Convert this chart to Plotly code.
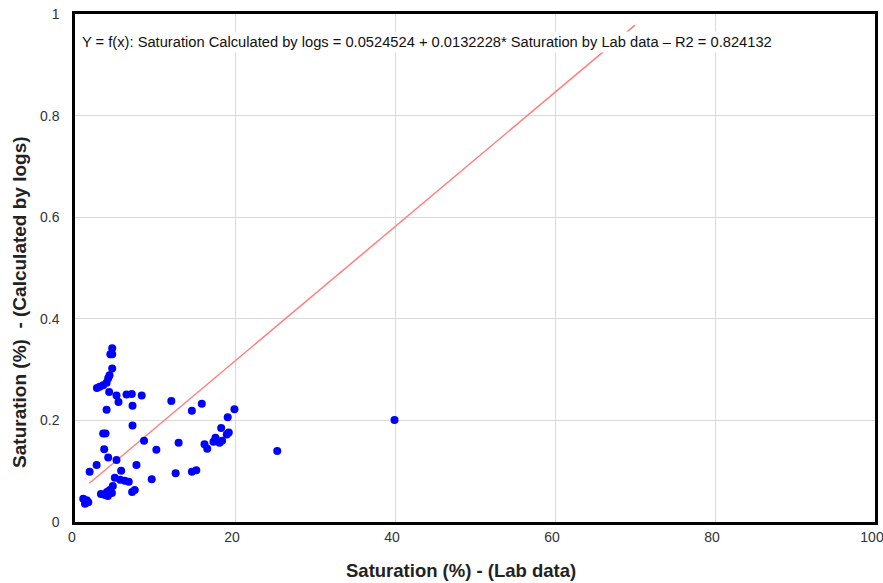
import plotly.graph_objects as go

lab_saturation = [4.65, 4.65, 4.42, 4.65, 4.32, 4.15, 3.95, 3.52, 3.08, 2.74,
                  4.27, 5.19, 5.44, 6.44, 7.10, 8.34, 7.19, 3.95, 12.04, 14.61,
                  15.85, 19.93, 19.09, 18.27, 19.22, 18.97, 17.56, 17.31, 18.06, 18.39,
                  16.19, 16.53, 12.95, 10.17, 12.58, 14.61, 15.16, 9.59, 39.94, 25.28,
                  7.19, 3.52, 3.82, 8.63, 3.65, 4.15, 5.19, 2.70, 1.83, 7.68,
                  5.77, 4.98, 5.64, 6.23, 6.72, 7.47, 7.14, 4.73, 4.36, 3.99,
                  4.61, 3.74, 3.24, 4.11, 1.03, 1.46, 1.66, 1.25]
log_saturation = [0.342, 0.330, 0.330, 0.302, 0.289, 0.283, 0.274, 0.269, 0.266, 0.264,
                  0.256, 0.249, 0.236, 0.251, 0.252, 0.249, 0.229, 0.221, 0.238, 0.219,
                  0.233, 0.222, 0.206, 0.185, 0.176, 0.172, 0.166, 0.158, 0.156, 0.160,
                  0.153, 0.144, 0.156, 0.142, 0.096, 0.099, 0.102, 0.084, 0.201, 0.140,
                  0.190, 0.174, 0.174, 0.160, 0.143, 0.127, 0.122, 0.112, 0.099, 0.112,
                  0.101, 0.087, 0.083, 0.081, 0.079, 0.063, 0.059, 0.071, 0.063, 0.059,
                  0.057, 0.053, 0.055, 0.051, 0.046, 0.043, 0.039, 0.036]

intercept = 0.0524524
slope = 0.0132228
r2 = 0.824132
fit_x = [1.8, 70.0]
fit_y = [intercept + slope * v for v in fit_x]

x_ticks = [0, 20, 40, 60, 80, 100]
y_ticks = [0, 0.2, 0.4, 0.6, 0.8, 1]

FONT = "Liberation Sans, Arial"

fig = go.Figure()
fig.add_trace(go.Scatter(x=fit_x, y=fit_y, mode="lines",
                         line=dict(color="#ff7f7f", width=1.5), showlegend=False))
fig.add_trace(go.Scatter(x=lab_saturation, y=log_saturation, mode="markers",
                         marker=dict(color="#0000ff", size=8), showlegend=False))

fig.add_annotation(
    x=0, y=1, xref="paper", yref="paper", xanchor="left", yanchor="top",
    xshift=4, yshift=-17,
    text=f"Y = f(x): Saturation Calculated by logs = {intercept} + {slope}* Saturation by Lab data – R2 = {r2}",
    showarrow=False, bgcolor="white", borderpad=2,
    font=dict(family=FONT, size=14.7, color="#111111"),
)

# axis titles (placed as in the reference, slightly off-centre)
fig.add_annotation(
    x=0.483, y=0, xref="paper", yref="paper", xanchor="center", yanchor="middle",
    yshift=-48, showarrow=False,
    text="<b>Saturation (%) - (Lab data)</b>",
    font=dict(family=FONT, size=18.5, color="#222222"),
)
fig.add_annotation(
    x=0, y=0.4313, xref="paper", yref="paper", xanchor="center", yanchor="middle",
    xshift=-55, showarrow=False, textangle=-90,
    text="<b>Saturation (%)  - (Calculated by logs)</b>",
    font=dict(family=FONT, size=19, color="#222222"),
)

axis_common = dict(showgrid=True, gridcolor="#d9d9d9", gridwidth=1,
                   showline=True, linecolor="black", linewidth=2.5, mirror=True,
                   zeroline=False, ticks="", automargin=False,
                   ticklabeloverflow="allow",
                   tickfont=dict(family=FONT, size=14, color="#333333"))

fig.update_layout(
    width=883, height=583,
    margin=dict(l=75, r=8, t=14, b=61),
    paper_bgcolor="white", plot_bgcolor="white",
    xaxis=dict(range=[0, 100], tickvals=x_ticks, ticklabelshift=-3, **axis_common),
    yaxis=dict(range=[0, 1], tickvals=y_ticks, ticklabelstandoff=10, **axis_common),
)

fig.write_html("out.html", config={"displayModeBar": False},
               post_script="document.body.style.margin='0px';")
